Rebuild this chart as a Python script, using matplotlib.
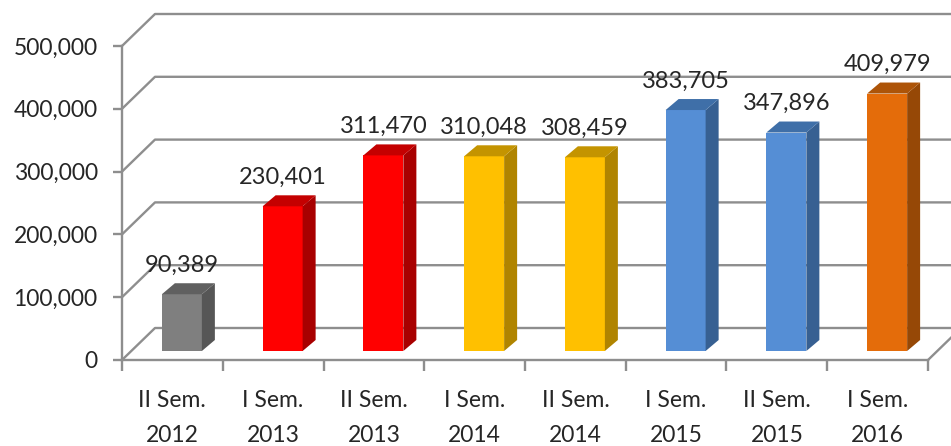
import matplotlib.pyplot as plt

plt.rcParams['font.family'] = ['Lato', 'DejaVu Sans']

# --- Dados ---
semesters = ['II Sem.', 'I Sem.', 'II Sem.', 'I Sem.', 'II Sem.', 'I Sem.', 'II Sem.', 'I Sem.']
years = ['2012', '2013', '2013', '2014', '2014', '2015', '2015', '2016']
values = [90389, 230401, 311470, 310048, 308459, 383705, 347896, 409979]
y_ticks = [0, 100000, 200000, 300000, 400000, 500000]
front_colors = ['#7f7f7f', '#ff0000', '#ff0000', '#ffc000', '#ffc000', '#558ed5', '#558ed5', '#e46c0a']
side_colors = ['#565656', '#a80000', '#a80000', '#b08400', '#b08400', '#376092', '#376092', '#964806']
top_colors = ['#606060', '#c40000', '#c40000', '#c49400', '#c49400', '#3f6fa8', '#3f6fa8', '#ad5408']

GRAY = '#8e8e8e'
W, H = 951, 446
AX_L, AX_R, AX_B, AX_T = 122, 928, 360, 46
n = len(values)

# conversao de pixels para unidades dos eixos
px_x = n / (AX_R - AX_L)
px_y = 500000 / (AX_B - AX_T)

fig = plt.figure(figsize=(W / 100, H / 100), dpi=100, facecolor='white')
ax = fig.add_axes([AX_L / W, (H - AX_B) / H, (AX_R - AX_L) / W, (AX_B - AX_T) / H])
ax.set_xlim(0, n)
ax.set_ylim(0, 500000)
ax.set_facecolor('none')

# Parede do fundo: grade em perspectiva
wall_dx, wall_dy = 33 * px_x, 32 * px_y
for t in y_ticks:
    ax.plot([0, wall_dx, n + wall_dx], [t, t + wall_dy, t + wall_dy],
            color=GRAY, lw=1.7, clip_on=False, zorder=1)
ax.plot([n, n + wall_dx], [0, wall_dy], color=GRAY, lw=1.7, clip_on=False, zorder=1)

# Barras 3D: face, lateral e topo
bar_w = 40 * px_x
front_dx, front_dy = 9.5 * px_x, 9 * px_y
depth_dx, depth_dy = 13 * px_x, 11 * px_y

for i, v in enumerate(values):
    x0 = i + 0.5 + front_dx - bar_w / 2
    x1 = x0 + bar_w
    y0 = front_dy
    y1 = front_dy + v
    ax.bar(x0, v, width=bar_w, bottom=y0, align='edge', color=front_colors[i], zorder=3)
    ax.fill([x1, x1 + depth_dx, x1 + depth_dx, x1],
            [y0, y0 + depth_dy, y1 + depth_dy, y1],
            color=side_colors[i], lw=0, clip_on=False, zorder=3)
    ax.fill([x0, x1, x1 + depth_dx, x0 + depth_dx],
            [y1, y1, y1 + depth_dy, y1 + depth_dy],
            color=top_colors[i], lw=0, clip_on=False, zorder=3)
    ax.text((x0 + x1) / 2, y1 + depth_dy + 18 * px_y, f'{v:,}',
            ha='center', va='center', fontsize=17, color='#262626', zorder=4, clip_on=False)

# Eixos
for side in ['top', 'right']:
    ax.spines[side].set_visible(False)
for side in ['left', 'bottom']:
    ax.spines[side].set_color(GRAY)
    ax.spines[side].set_linewidth(1.7)
    ax.spines[side].set_zorder(2)

ax.set_yticks(y_ticks)
ax.set_yticklabels([f'{t:,}' for t in y_ticks], fontsize=16.5, color='#262626')
ax.tick_params(axis='y', length=6.5, width=1.7, color=GRAY, pad=11)

ax.set_xticks(range(n + 1))
ax.set_xticklabels([])
ax.tick_params(axis='x', which='major', length=8, width=1.7, color=GRAY)
ax.set_xticks([i + 0.5 for i in range(n)], minor=True)
ax.set_xticklabels([f'{s}\n{y}' for s, y in zip(semesters, years)], minor=True,
                   fontsize=16.5, color='#262626', linespacing=1.85)
ax.tick_params(axis='x', which='minor', length=0, pad=21.5)

fig.savefig('out.png', dpi=100)
